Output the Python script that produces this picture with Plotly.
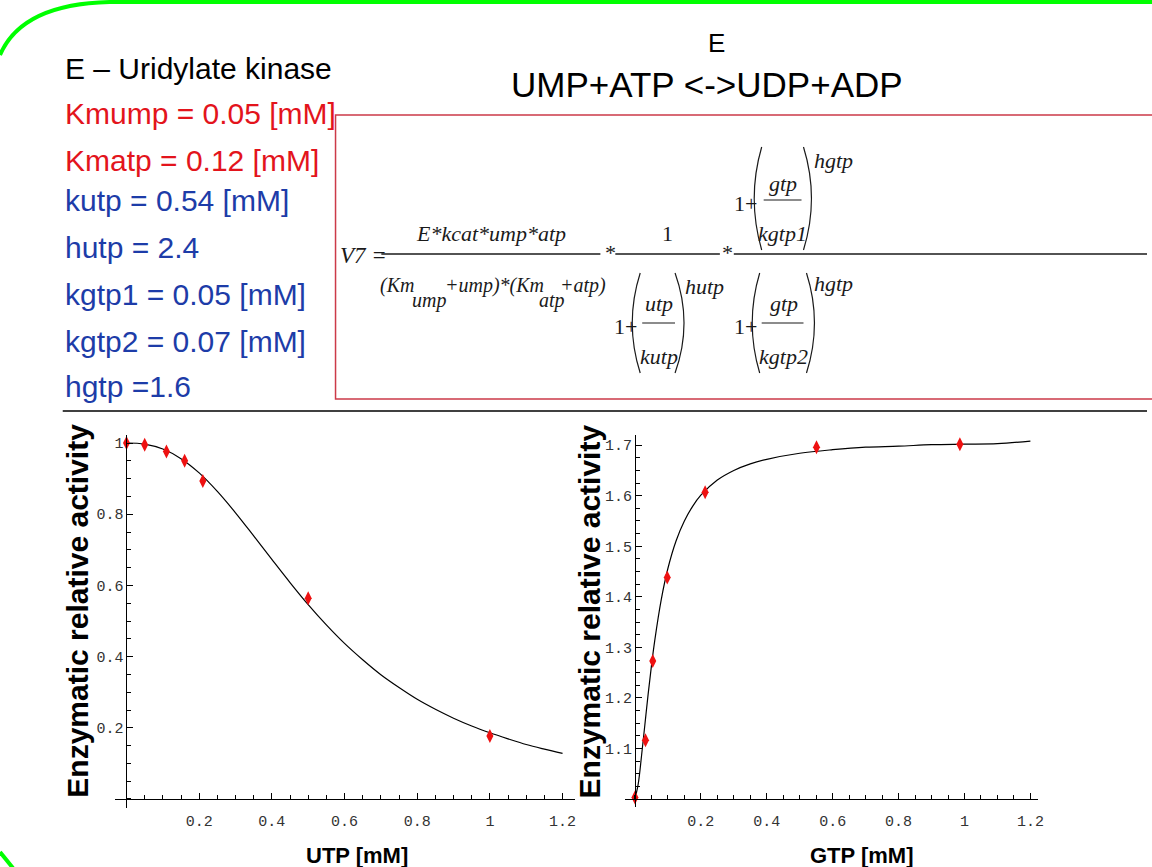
import plotly.graph_objects as go

W, H = 1152, 867

# ---------------- data ----------------
utp_obs_x = [0, 0.05, 0.11, 0.16, 0.21, 0.5, 1.0]
utp_obs_y = [1.0, 0.995, 0.976, 0.95, 0.893, 0.564, 0.177]
utp_fit_x = [0, 0.05, 0.1, 0.15, 0.2, 0.25, 0.3, 0.35, 0.4, 0.45, 0.5, 0.55, 0.6,
             0.65, 0.7, 0.75, 0.8, 0.85, 0.9, 0.95, 1.0, 1.05, 1.1, 1.15, 1.2]
utp_fit_y = [1.0, 0.997, 0.983, 0.956, 0.916, 0.864, 0.804, 0.739, 0.673, 0.608, 0.546,
             0.489, 0.437, 0.391, 0.349, 0.313, 0.280, 0.252, 0.227, 0.205, 0.186,
             0.169, 0.153, 0.140, 0.128]

gtp_obs_x = [0, 0.032, 0.054, 0.098, 0.213, 0.551, 0.986]
gtp_obs_y = [1.003, 1.116, 1.273, 1.438, 1.607, 1.696, 1.702]
gtp_fit_x = [0, 0.01, 0.02, 0.03, 0.04, 0.05, 0.06, 0.08, 0.1, 0.125, 0.15, 0.175, 0.2,
             0.25, 0.3, 0.35, 0.4, 0.5, 0.6, 0.7, 0.8, 0.9, 1.0, 1.1, 1.2]
gtp_fit_y = [1.0, 1.030, 1.085, 1.146, 1.207, 1.263, 1.313, 1.395, 1.456, 1.511, 1.550,
             1.579, 1.601, 1.631, 1.650, 1.663, 1.672, 1.684, 1.691, 1.696, 1.698,
             1.701, 1.702, 1.703, 1.708]

utp_tickvals = [0.2, 0.4, 0.6, 0.8, 1.0, 1.2]
utp_ticktext = ["0.2", "0.4", "0.6", "0.8", "1", "1.2"]
left_yvals = [0.2, 0.4, 0.6, 0.8, 1.0]
left_ytext = ["0.2", "0.4", "0.6", "0.8", "1"]
gtp_tickvals = [0.2, 0.4, 0.6, 0.8, 1.0, 1.2]
gtp_ticktext = ["0.2", "0.4", "0.6", "0.8", "1", "1.2"]
right_yvals = [1.1, 1.2, 1.3, 1.4, 1.5, 1.6, 1.7]
right_ytext = ["1.1", "1.2", "1.3", "1.4", "1.5", "1.6", "1.7"]

params_text = ["E \u2013 Uridylate kinase", "Kmump = 0.05 [mM]", "Kmatp = 0.12 [mM]",
               "kutp = 0.54 [mM]", "hutp = 2.4", "kgtp1 = 0.05 [mM]",
               "kgtp2 = 0.07 [mM]", "hgtp =1.6"]
params_color = ["black", "red", "red", "blue", "blue", "blue", "blue", "blue"]

# ---------------- helpers ----------------
def X(px):
    return px / W

def Y(py):
    return 1 - py / H

SANS = "Liberation Sans, Arial, sans-serif"
SERIF = "Liberation Serif, Times New Roman, serif"
MONO = "Liberation Mono, Courier New, monospace"
RED = "#e3141c"
BLUE = "#1d3ca8"
colmap = {"black": "black", "red": RED, "blue": BLUE}

annotations = []
shapes = []

def text(s, x, base, size, color="black", family=SANS, anchor="left", italic=False, bold=False):
    k = 0.3465 if family == SANS else 0.3375
    if bold:
        s = "<b>" + s + "</b>"
    if italic:
        s = "<i>" + s + "</i>"
    annotations.append(dict(text=s, x=X(x), y=Y(base - k * size), xref="paper", yref="paper",
                            xanchor=anchor, yanchor="middle", showarrow=False,
                            font=dict(family=family, size=size, color=color), borderpad=0))

def line(x0, y0, x1, y1, color="black", width=1.2):
    shapes.append(dict(type="line", xref="paper", yref="paper", x0=X(x0), y0=Y(y0),
                       x1=X(x1), y1=Y(y1), line=dict(color=color, width=width)))

def paren(x_edge, x_ctrl, top, bottom, color="#222", width=1.2):
    mid = (top + bottom) / 2
    p = f"M {X(x_edge)},{Y(top)} Q {X(x_ctrl)},{Y(mid)} {X(x_edge)},{Y(bottom)}"
    shapes.append(dict(type="path", xref="paper", yref="paper", path=p,
                       line=dict(color=color, width=width)))

# ---------------- text block ----------------
baselines = [79, 124, 171, 211, 258, 305, 352, 397]
for s, c, b in zip(params_text, params_color, baselines):
    text(s, 64, b, 30, colmap[c])

text("E", 720, 52, 26, anchor="center")
text("UMP+ATP &lt;-&gt;UDP+ADP", 710, 97, 35, anchor="center")

# formula box
shapes.append(dict(type="rect", xref="paper", yref="paper", x0=X(337), y0=Y(399), x1=X(1160), y1=Y(115),
                   line=dict(color="#cc3a48", width=1.5)))
# divider
line(63, 411, 1152, 411, "black", 1.5)

FS = 22
FD = 20
FC = "#1a1a1a"
text("V7 =", 340, 263, 23, FC, SERIF, italic=True)
# fraction 1
line(383, 254, 603, 254, FC, 1.3)
text("E*kcat*ump*atp", 493, 241, FS, FC, SERIF, anchor="center", italic=True)
text("(Km", 381, 292, FD, FC, SERIF, italic=True)
text("ump", 413, 307, FD, FC, SERIF, italic=True)
text("+ump)*(Km", 446, 292, FD, FC, SERIF, italic=True)
text("atp", 540, 307, FD, FC, SERIF, italic=True)
text("+atp)", 561, 292, FD, FC, SERIF, italic=True)
text("*", 612, 260, FS, FC, SERIF, anchor="center", italic=True)
# fraction 2
line(618, 254, 723, 254, FC, 1.3)
text("1", 670, 241, FS, FC, SERIF, anchor="center")
text("1+", 616, 334, FS, FC, SERIF)
paren(643, 627, 273, 373, FC)
text("utp", 662, 311, FS, FC, SERIF, anchor="center", italic=True)
line(645, 323, 678, 323, FC, 1.1)
text("kutp", 662, 364, FS, FC, SERIF, anchor="center", italic=True)
paren(678, 696, 273, 373, FC)
text("hutp", 687, 294, FS, FC, SERIF, italic=True)
text("*", 730, 260, FS, FC, SERIF, anchor="center", italic=True)
# fraction 3
line(737, 254, 1152, 254, FC, 1.3)
text("1+", 736, 211, FS, FC, SERIF)
paren(765, 750, 147, 250, FC)
text("gtp", 786, 191, FS, FC, SERIF, anchor="center", italic=True)
line(767, 200, 805, 200, FC, 1.1)
text("kgtp1", 786, 241, FS, FC, SERIF, anchor="center", italic=True)
paren(807, 823, 147, 250, FC)
text("hgtp", 817, 168, FS, FC, SERIF, italic=True)
text("1+", 736, 334, FS, FC, SERIF)
paren(763, 748, 273, 373, FC)
text("gtp", 787, 311, FS, FC, SERIF, anchor="center", italic=True)
line(765, 323, 807, 323, FC, 1.1)
text("kgtp2", 787, 364, FS, FC, SERIF, anchor="center", italic=True)
paren(810, 826, 273, 373, FC)
text("hgtp", 817, 291, FS, FC, SERIF, italic=True)

# axis titles
for cx in (77, 592):
    annotations.append(dict(text="<b>Enzymatic relative activity</b>", x=X(cx), y=Y(611),
                            xref="paper", yref="paper", xanchor="center", yanchor="middle",
                            textangle=-90, showarrow=False,
                            font=dict(family=SANS, size=30, color="black")))
text("UTP [mM]", 359, 863, 22, bold=True, anchor="center")
text("GTP [mM]", 865, 863, 22, bold=True, anchor="center")

# green border
gp = f"M {X(0)},{Y(55)} Q {X(22)},{Y(4)} {X(110)},{Y(2)} L {X(1160)},{Y(2)}"
shapes.append(dict(type="path", xref="paper", yref="paper", path=gp,
                   line=dict(color="#00ff00", width=4)))
line(0, 852, 13, 868, "#00ff00", 4)

# ---------------- figure ----------------
fig = go.Figure()
fig.add_trace(go.Scatter(x=utp_fit_x, y=utp_fit_y, mode="lines", line=dict(color="black", width=1.2),
                         line_shape="spline", xaxis="x", yaxis="y", showlegend=False))
fig.add_trace(go.Scatter(x=utp_obs_x, y=utp_obs_y, mode="markers",
                         marker=dict(symbol="diamond-tall", size=10, color="#ee1111"),
                         xaxis="x", yaxis="y", showlegend=False))
fig.add_trace(go.Scatter(x=gtp_fit_x, y=gtp_fit_y, mode="lines", line=dict(color="black", width=1.2),
                         line_shape="spline", xaxis="x2", yaxis="y2", showlegend=False))
fig.add_trace(go.Scatter(x=gtp_obs_x, y=gtp_obs_y, mode="markers",
                         marker=dict(symbol="diamond-tall", size=10, color="#ee1111"),
                         xaxis="x2", yaxis="y2", showlegend=False))

tickfont = dict(family=MONO, size=15, color="#333")
common = dict(showgrid=False, zeroline=False, showline=True, linecolor="black", linewidth=1,
              ticks="inside", ticklen=6, tickcolor="black", tickfont=tickfont, tickmode="array")

fig.update_layout(
    width=W, height=H, margin=dict(l=0, r=0, t=0, b=0),
    paper_bgcolor="white", plot_bgcolor="rgba(0,0,0,0)",
    xaxis=dict(common, domain=[X(115), X(578)], range=[-0.033, 1.2356], anchor="free",
               position=Y(799), tickvals=utp_tickvals, ticktext=utp_ticktext,
               ticklabelstandoff=8,
               minor=dict(tickmode="linear", tick0=0, dtick=0.05, ticks="inside", ticklen=4,
                          tickcolor="black")),
    yaxis=dict(common, domain=[Y(808), Y(435)], range=[-0.0253, 1.0225], anchor="free",
               position=X(127), tickvals=left_yvals, ticktext=left_ytext,
               minor=dict(tickmode="linear", tick0=0, dtick=0.05, ticks="inside", ticklen=4,
                          tickcolor="black")),
    xaxis2=dict(common, domain=[X(627.7), X(1043)], range=[-0.0302, 1.2245], anchor="free",
                position=Y(799), tickvals=gtp_tickvals, ticktext=gtp_ticktext,
                ticklabelstandoff=8,
                minor=dict(tickmode="linear", tick0=0, dtick=0.05, ticks="inside", ticklen=4,
                           tickcolor="black")),
    yaxis2=dict(common, domain=[Y(807), Y(435)], range=[0.9842, 1.7201], anchor="free",
                position=X(637.7), tickvals=right_yvals, ticktext=right_ytext,
                minor=dict(tickmode="linear", tick0=1.0, dtick=0.025, ticks="inside", ticklen=4,
                           tickcolor="black")),
    annotations=annotations, shapes=shapes,
)

fig.write_html("out.html", config={"displayModeBar": False},
               post_script="document.body.style.margin='0';")
